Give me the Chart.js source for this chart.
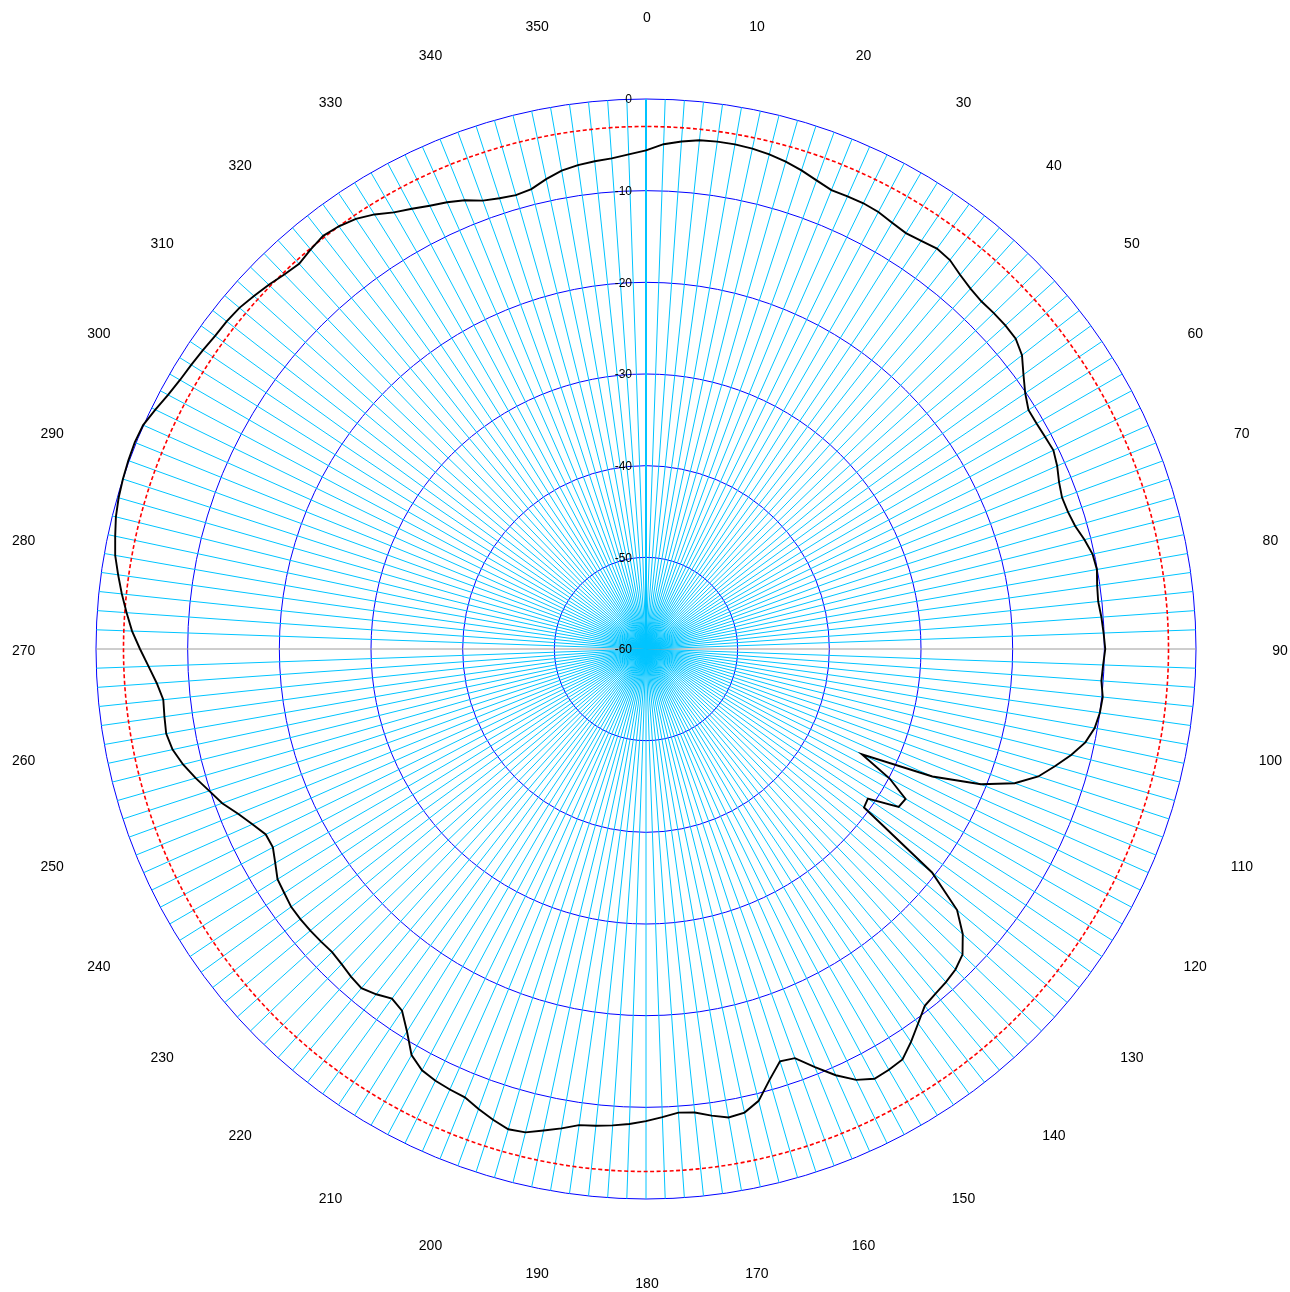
<!DOCTYPE html>
<html><head><meta charset="utf-8">
<script src="https://cdn.jsdelivr.net/npm/chart.js@4.4.1/dist/chart.umd.min.js"></script>
<style>html,body{margin:0;padding:0;background:#fff;overflow:hidden}#wrap{width:1290px;height:1292px;position:relative}</style>
</head><body><div id="wrap"><canvas id="c"></canvas></div>
<script>
// angle categories (degrees, clockwise from top), one per spoke
const angles = Array.from({length: 180}, (_, i) => i * 2);

// measured gain (dB) at each angle above
const gain = [
  -5.6, -4.9, -4.5, -4.2, -4.1, -4.1, -4.2, -4.4, -4.7, -5.1,      // 0-18
  -5.6, -6.0, -5.95, -5.9, -6.0, -6.3, -6.5, -6.3, -6.0, -6.15,    // 20-38
  -6.7, -7.1, -7.3, -7.25, -7.25, -7.35, -7.95, -9.1, -10.1, -10.8,// 40-58
  -10.8, -10.7, -10.55, -10.9, -11.4, -11.7, -11.6, -11.3, -10.7, -10.2, // 60-78
  -10.05, -10.3, -10.4, -10.2, -10.05, -9.9, -10.1, -10.2, -9.9, -10.0,  // 80-98
  -10.3, -11.0, -12.2, -13.6, -15.0, -17.2, -20.6, -25.8, -33.8, -29.9,  // 100-118
  -27.3, -27.5, -30.8, -30.6, -20.4, -15.7, -13.5, -12.0, -11.4, -11.1,  // 120-138
  -10.9, -10.6, -9.5, -8.3, -7.2, -7.0, -6.9, -7.7, -9.1, -10.8,         // 140-158
  -12.5, -12.7, -11.1, -9.2, -8.3, -8.1, -8.6, -9.15, -9.3, -8.9,        // 160-178
  -8.5, -8.15, -7.9, -7.7, -7.55, -6.9, -6.3, -5.65, -5.5, -6.0,         // 180-198
  -6.6, -7.25, -7.4, -7.6, -7.95, -8.85, -10.8, -12.4, -12.85, -12.2,    // 200-218
  -11.7, -11.9, -12.2, -12.4, -12.3, -12.2, -12.15, -12.15, -12.4, -12.6,// 220-238
  -13.3, -13.9, -13.85, -13.0, -12.0, -10.8, -9.9, -8.9, -7.95, -7.2,    // 240-258
  -6.85, -6.95, -7.05, -6.5, -5.7, -4.8, -3.9, -3.2, -2.5, -1.85,        // 260-278
  -1.2, -0.8, -0.4, -0.15, 0.0, 0.1, 0.15, 0.05, -0.45, -0.95,           // 280-298
  -1.3, -1.5, -1.7, -1.9, -1.95, -2.1, -2.45, -2.8, -3.2, -3.45,         // 300-318
  -3.1, -2.8, -3.0, -3.4, -4.1, -5.0, -5.6, -6.2, -6.65, -7.2,           // 320-338
  -7.95, -8.3, -8.5, -8.3, -7.6, -7.0, -6.7, -6.5, -6.35, -6.0           // 340-358
];

// angle tick labels shown every 10 degrees
const angleTickLabels = ['0','10','20','30','40','50','60','70','80','90','100','110',
  '120','130','140','150','160','170','180','190','200','210','220','230','240','250',
  '260','270','280','290','300','310','320','330','340','350'];

// radial tick labels (dB)
const radialTicks = [0, -10, -20, -30, -40, -50, -60];

// reference level (dashed circle)
const refLevel = -3;

const overlay = {
  id: 'overlay',
  beforeDatasetsDraw(chart) {
    const s = chart.scales.r, ctx = chart.ctx;
    ctx.save();
    ctx.strokeStyle = '#ff0000';
    ctx.lineWidth = 1.6;
    ctx.setLineDash([4, 2.5]);
    ctx.beginPath();
    ctx.arc(s.xCenter, s.yCenter, s.getDistanceFromCenterForValue(refLevel), 0, Math.PI * 2);
    ctx.stroke();
    ctx.restore();
  },
  afterDraw(chart) {
    const s = chart.scales.r, ctx = chart.ctx;
    ctx.save();
    ctx.fillStyle = '#000';
    ctx.font = '14px "Liberation Sans", Arial, sans-serif';
    ctx.textAlign = 'center';
    ctx.textBaseline = 'middle';
    angleTickLabels.forEach(t => {
      const idx = angles.indexOf(Number(t));
      const p = s.getPointPosition(idx, s.drawingArea + 83);
      const w = ctx.measureText(t).width;
      const x = Math.max(p.x + 1, 12 + w / 2);
      ctx.fillText(t, x, p.y + 2);
    });
    ctx.font = '12px "Liberation Sans", Arial, sans-serif';
    ctx.textAlign = 'right';
    radialTicks.forEach(v => {
      const d = s.getDistanceFromCenterForValue(v);
      ctx.fillText(String(v), s.xCenter - 14, s.yCenter - d + 1);
    });
    ctx.restore();
  }
};

new Chart(document.getElementById('c'), {
  type: 'radar',
  data: {
    labels: angles.map(String),
    datasets: [{
      data: gain,
      borderColor: '#000000',
      borderWidth: 1.9,
      pointRadius: 0,
      pointHoverRadius: 0,
      fill: false,
      tension: 0,
      clip: false
    }]
  },
  options: {
    responsive: true,
    maintainAspectRatio: false,
    animation: false,
    layout: { padding: { left: 96, right: 94, top: 99, bottom: 93 } },
    plugins: { legend: { display: false }, tooltip: { enabled: false } },
    scales: {
      r: {
        min: -60,
        max: 0,
        ticks: { stepSize: 10, display: false, showLabelBackdrop: false },
        pointLabels: { display: false },
        grid: {
          circular: true,
          color: (c) => (c.tick && c.tick.value === -60) ? 'rgba(0,0,0,0)' : '#0000ff',
          lineWidth: 1
        },
        angleLines: {
          color: (c) => (c.index === 45 || c.index === 135) ? '#9c9c9c' : '#00c4ff',
          lineWidth: (c) => c.index === 0 ? 2 : 1
        }
      }
    }
  },
  plugins: [overlay]
});
</script>
</body></html>
